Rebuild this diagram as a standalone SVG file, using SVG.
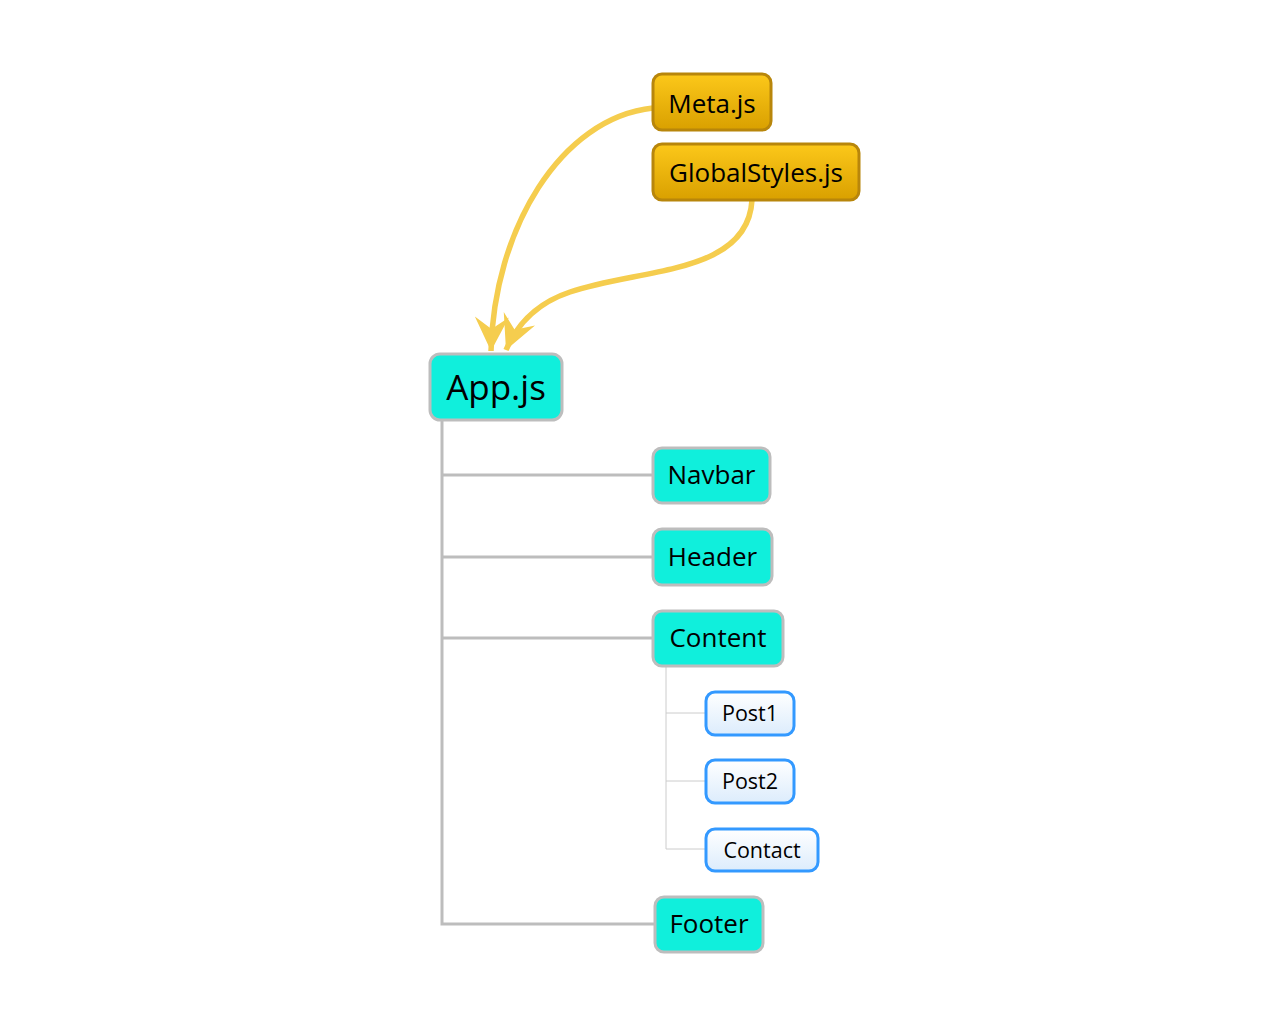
<svg xmlns="http://www.w3.org/2000/svg" width="1280" height="1024" viewBox="0 0 1280 1024">
<defs>
<linearGradient id="gold" x1="0" y1="0" x2="0" y2="1">
<stop offset="0" stop-color="#fcc81a"/>
<stop offset="1" stop-color="#d9a000"/>
</linearGradient>
<linearGradient id="blue" x1="0" y1="0" x2="0" y2="1">
<stop offset="0" stop-color="#ffffff"/>
<stop offset="1" stop-color="#dcecfc"/>
</linearGradient>
<marker id="arr" markerUnits="userSpaceOnUse" markerWidth="40" markerHeight="40" viewBox="-36 -20 40 40" refX="0" refY="0" orient="auto">
<path d="M0,0 L-34,-17 L-22,0 L-34,17 Z" fill="#f5cd4e"/>
</marker>
<style>
text{font-family:"Open Sans","Noto Sans","DejaVu Sans",sans-serif;fill:#000;text-anchor:middle;dominant-baseline:central}
.gold{fill:url(#gold);stroke:#b8860b;stroke-width:3}
.cyan{fill:#10efdc;stroke:#bdbdbd;stroke-width:3}
.blue{fill:url(#blue);stroke:#3399ff;stroke-width:3}
.t24{font-size:26px}
.t20{font-size:21.5px}
.dep{fill:none;stroke:#f5cd4e;stroke-width:5.5}
.main{fill:none;stroke:#bdbdbd;stroke-width:3}
.sub{fill:none;stroke:#cccccc;stroke-width:1}
</style>
</defs>
<g id="connectors">
<path class="main" d="M442,420 V924 H655 M442,475 H653 M442,557 H653 M442,638 H653"/>
<path class="sub" d="M666,666 V849 H706 M666,713 H706 M666,781 H706"/>
<path class="dep" d="M653,108 C560,118 494,230 491,351" marker-end="url(#arr)"/>
<path class="dep" d="M752,200 C748,275 640,268 570,292 C540,302 518,322 506,350" marker-end="url(#arr)"/>
</g>
<g id="meta"><rect class="gold" x="653" y="74" width="118" height="56" rx="9"/><text class="t24" x="712" y="103">Meta.js</text></g>
<g id="globalstyles"><rect class="gold" x="653" y="144" width="206" height="56" rx="9"/><text class="t24" x="756" y="172">GlobalStyles.js</text></g>
<g id="app"><rect class="cyan" x="430" y="354" width="132" height="66" rx="10"/><text x="496" y="386" style="font-size:35px">App.js</text></g>
<g id="navbar"><rect class="cyan" x="653" y="448" width="117" height="55" rx="9"/><text class="t24" x="711.5" y="474">Navbar</text></g>
<g id="header"><rect class="cyan" x="653" y="529" width="119" height="56" rx="9"/><text class="t24" x="712.5" y="556">Header</text></g>
<g id="content"><rect class="cyan" x="653" y="611" width="130" height="55" rx="9"/><text class="t24" x="718" y="637">Content</text></g>
<g id="post1"><rect class="blue" x="706" y="692" width="88" height="43" rx="9"/><text class="t20" x="750" y="712">Post1</text></g>
<g id="post2"><rect class="blue" x="706" y="760" width="88" height="43" rx="9"/><text class="t20" x="750" y="780">Post2</text></g>
<g id="contact"><rect class="blue" x="706" y="829" width="112" height="42" rx="9"/><text class="t20" x="762" y="849">Contact</text></g>
<g id="footer"><rect class="cyan" x="655" y="897" width="108" height="55" rx="9"/><text class="t24" x="709" y="923">Footer</text></g>
</svg>
